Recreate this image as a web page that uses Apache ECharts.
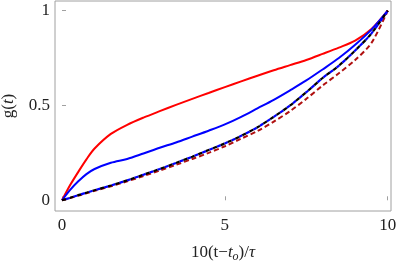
<!DOCTYPE html>
<html>
<head>
<meta charset="utf-8">
<script src="https://cdn.jsdelivr.net/npm/echarts@6/dist/echarts.min.js"></script>
<style>html,body{margin:0;padding:0;background:#fff;}#c{width:399px;height:266px;}</style>
</head>
<body>
<div id="c"></div>
<script>
// x positions (10(t - t_o)/tau)
const xs = [0, 0.25, 0.5, 0.75, 1, 1.5, 2, 2.5, 3, 3.5, 4, 4.5, 5, 5.5, 6, 6.5, 7, 7.5, 8, 8.5, 9, 9.5, 10];
// series values g(t)
const redSolid  = [0, 0.08, 0.15, 0.216, 0.273, 0.35, 0.398, 0.436, 0.47, 0.503, 0.535, 0.566, 0.597, 0.627, 0.657, 0.686, 0.713, 0.74, 0.772, 0.805, 0.842, 0.903, 1];
const blueSolid = [0, 0.055, 0.10, 0.138, 0.165, 0.198, 0.218, 0.247, 0.277, 0.305, 0.336, 0.367, 0.40, 0.44, 0.485, 0.53, 0.58, 0.632, 0.69, 0.75, 0.82, 0.9, 1];
const blackDash = [0, 0.013, 0.027, 0.04, 0.053, 0.078, 0.105, 0.135, 0.165, 0.197, 0.23, 0.265, 0.30, 0.34, 0.385, 0.44, 0.50, 0.57, 0.645, 0.71, 0.79, 0.88, 1];
const blueDash  = [0, 0.013, 0.027, 0.04, 0.053, 0.078, 0.105, 0.135, 0.165, 0.197, 0.23, 0.265, 0.30, 0.34, 0.385, 0.44, 0.50, 0.57, 0.645, 0.71, 0.79, 0.88, 1];
const redDash   = [0, 0.012, 0.025, 0.037, 0.05, 0.074, 0.10, 0.128, 0.157, 0.187, 0.218, 0.25, 0.285, 0.325, 0.365, 0.415, 0.47, 0.535, 0.605, 0.67, 0.74, 0.83, 1];
// tick labels
const xTicks = [0, 5, 10];
const yTicks = [0, 0.5, 1];

const pairs = ys => xs.map((x, i) => [x, ys[i]]);
const font = '"Liberation Serif", "Times New Roman", serif';
const txt = '#222';

const chart = echarts.init(document.getElementById('c'), null, {renderer: 'canvas'});
chart.setOption({
  animation: false,
  grid: {left: 55, right: 8, top: 1, bottom: 55, outerBoundsMode: 'none', containLabel: false,
         show: true, borderColor: '#a0a0a0', borderWidth: 1, backgroundColor: 'transparent'},
  xAxis: {
    type: 'value', min: -0.215, max: 10.1,
    axisLine: {show: false},
    splitLine: {show: false},
    axisTick: {show: true, inside: true, length: 4, customValues: xTicks, lineStyle: {color: '#a0a0a0'}},
    axisLabel: {customValues: xTicks, color: txt, fontFamily: font, fontSize: 17, margin: 6},
    name: '10(t\u2212{i|t}{s|o})/{i|\u03c4}',
    nameLocation: 'middle', nameGap: 32,
    nameTextStyle: {color: txt, fontFamily: font, fontSize: 17,
      rich: {i: {fontFamily: font, fontStyle: 'italic', fontSize: 17, color: txt},
             s: {fontFamily: font, fontStyle: 'italic', fontSize: 12, color: txt, verticalAlign: 'bottom', padding: [8, 0, 0, 0]}}}
  },
  yAxis: {
    type: 'value', min: -0.0565, max: 1.051,
    axisLine: {show: false},
    splitLine: {show: false},
    axisTick: {show: true, inside: true, length: 4, customValues: yTicks, lineStyle: {color: '#a0a0a0'}},
    axisLabel: {customValues: yTicks, color: txt, fontFamily: font, fontSize: 17, margin: 5,
      formatter: v => (Math.abs(v - 0.5) < 1e-9 ? '0.5' : String(Math.round(v)))},
    name: 'g({i|t})',
    nameLocation: 'middle', nameGap: 38, nameRotate: 90,
    nameTextStyle: {color: txt, fontFamily: font, fontSize: 17,
      rich: {i: {fontFamily: font, fontStyle: 'italic', fontSize: 17, color: txt}}}
  },
  series: [
    {type: 'line', data: pairs(redSolid), smooth: 0.3, symbol: 'none', lineStyle: {color: '#ff0000', width: 2}},
    {type: 'line', data: pairs(blueSolid), smooth: 0.3, symbol: 'none', lineStyle: {color: '#0000ff', width: 2}},
    {type: 'line', data: pairs(redDash), smooth: 0.3, symbol: 'none', lineStyle: {color: '#b01010', width: 2, type: [5, 3]}},
    {type: 'line', data: pairs(blueDash), smooth: 0.3, symbol: 'none', lineStyle: {color: '#0000ff', width: 2.2, type: [4, 4], dashOffset: 4}},
    {type: 'line', data: pairs(blackDash), smooth: 0.3, symbol: 'none', lineStyle: {color: '#000000', width: 2.2, type: [4, 4]}}
  ]
});
</script>
</body>
</html>
